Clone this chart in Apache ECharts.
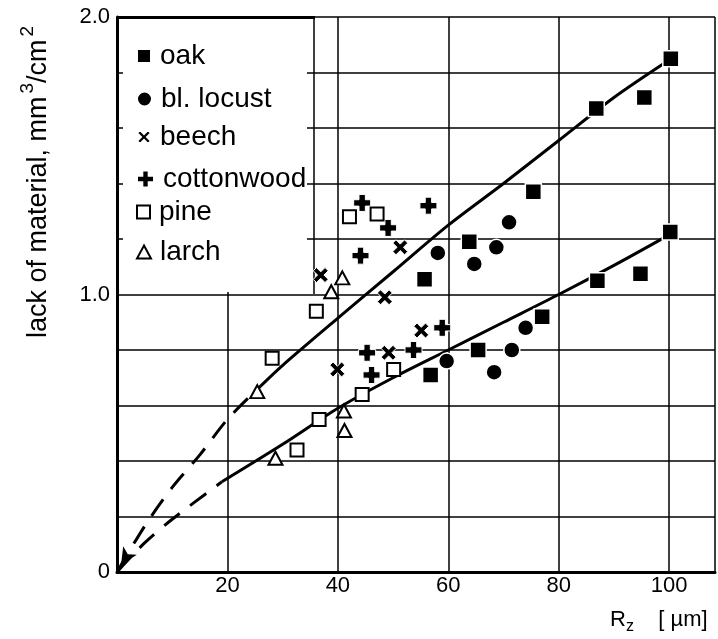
<!DOCTYPE html>
<html>
<head>
<meta charset="utf-8">
<script src="https://cdn.jsdelivr.net/npm/echarts@6/dist/echarts.min.js"></script>
<style>
  html, body { margin: 0; padding: 0; background: #fff; }
  #chart { width: 718px; height: 639px; }
</style>
</head>
<body>
<div id="chart"></div>
<script>
// measured points, x = Rz [um], y = lack of material [mm3/cm2]
const oakX = [100.3, 95.5, 86.8, 75.4, 63.8, 55.7, 100.2, 94.8, 87.0, 77.0, 65.4, 56.8];
const oakY = [1.85, 1.71, 1.67, 1.37, 1.19, 1.055, 1.225, 1.075, 1.05, 0.92, 0.80, 0.71];
const locustX = [71.0, 68.7, 64.7, 58.1, 59.7, 68.3, 71.5, 74.0];
const locustY = [1.26, 1.17, 1.11, 1.15, 0.76, 0.72, 0.80, 0.88];
const beechX = [36.9, 51.3, 48.5, 55.1, 49.2, 39.9];
const beechY = [1.07, 1.17, 0.99, 0.87, 0.79, 0.73];
const cottonX = [44.4, 49.1, 56.4, 44.1, 58.9, 53.7, 45.3, 46.1];
const cottonY = [1.33, 1.24, 1.32, 1.14, 0.88, 0.80, 0.79, 0.71];
const pineX = [42.1, 47.1, 36.1, 28.1, 50.1, 44.4, 36.6, 32.6];
const pineY = [1.28, 1.29, 0.94, 0.77, 0.73, 0.64, 0.55, 0.44];
const larchX = [40.8, 38.8, 25.4, 41.1, 41.2, 28.7];
const larchY = [1.06, 1.01, 0.65, 0.58, 0.51, 0.41];

// fitted curves (dashed part = extrapolation to origin)
const upperDashX = [0, 5, 10, 15, 20, 26];
const upperDashY = [0, 0.165, 0.305, 0.422, 0.55, 0.67];
const upperX = [26, 30, 40, 50, 60, 70, 80, 90, 100];
const upperY = [0.67, 0.745, 0.915, 1.082, 1.25, 1.40, 1.555, 1.71, 1.845];
const lowerDashX = [0, 5, 10, 19];
const lowerDashY = [0, 0.105, 0.19, 0.325];
const lowerX = [19, 30, 40, 50, 60, 70, 80, 90, 100];
const lowerY = [0.325, 0.46, 0.59, 0.70, 0.80, 0.90, 1.0, 1.105, 1.215];

const xTicks = [20, 40, 60, 80, 100];
const yTicks = ['0', '1.0', '2.0'];

const font = '"Liberation Sans", Arial, sans-serif';
const crossPath = 'path://M0,3 L3,0 L7,4 L11,0 L14,3 L10,7 L14,11 L11,14 L7,10 L3,14 L0,11 L4,7 Z';
const plusPath = 'path://M5,0 L11,0 L11,5 L16,5 L16,11 L11,11 L11,16 L5,16 L5,11 L0,11 L0,5 L5,5 Z';

const zip = (xs, ys) => xs.map((x, i) => [x, ys[i]]);

function curve(name, xs, ys, dashed) {
  const data = zip(xs, ys);
  if (name === 'upperDash') {
    data[0] = { value: data[0], symbol: 'arrow', symbolSize: [12, 17], symbolRotate: 148, symbolOffset: [4, -7] };
  }
  return {
    name: name,
    type: 'line',
    data: data,
    smooth: 0.3,
    symbol: 'none',
    showSymbol: true,
    silent: true,
    itemStyle: { color: '#000' },
    lineStyle: dashed ? { color: '#000', width: 3, type: [20, 13] } : { color: '#000', width: 3 },
    z: 2
  };
}

function scatter(name, xs, ys, symbol, size, hollow, halo) {
  return {
    name: name,
    type: 'scatter',
    data: zip(xs, ys),
    symbol: symbol,
    symbolSize: size,
    itemStyle: hollow
      ? { color: '#fff', borderColor: '#000', borderWidth: 2, opacity: 1 }
      : { color: '#000', borderColor: '#fff', borderWidth: halo, opacity: 1 },
    z: 3
  };
}

const legendTops = [57, 100, 138, 180, 213, 253];
const legendNames = ['oak', 'bl. locust', 'beech', 'cottonwood', 'pine', 'larch'];
const legendSizes = [[14, 14], [15, 15], [14, 14], [17, 17], [13, 13], [14, 13]];

const chart = echarts.init(document.getElementById('chart'));
chart.setOption({
  animation: false,
  backgroundColor: '#fff',
  grid: { left: 117, top: 17, right: 0, height: 555, containLabel: false },
  xAxis: {
    type: 'value',
    min: 0,
    max: 108.3,
    interval: 20,
    axisLine: { show: true, onZero: false, lineStyle: { color: '#000', width: 3 } },
    axisTick: { show: false },
    axisLabel: {
      color: '#000', fontSize: 22, fontFamily: font, margin: 3,
      formatter: v => (xTicks.indexOf(v) >= 0 ? String(v) : '')
    },
    splitLine: { show: true, lineStyle: { color: '#000', width: 1.5 } }
  },
  yAxis: {
    type: 'value',
    min: 0,
    max: 2,
    interval: 0.2,
    axisLine: { show: true, onZero: false, lineStyle: { color: '#000', width: 3 } },
    axisTick: { show: false },
    axisLabel: {
      color: '#000', fontSize: 22, fontFamily: font, margin: 7,
      formatter: v => {
        const i = Math.round(v);
        return Math.abs(v - i) < 1e-6 ? yTicks[i] : '';
      }
    },
    splitLine: { show: true, lineStyle: { color: '#000', width: 1.5 } }
  },
  legend: legendNames.map((n, i) => ({
    data: [n],
    left: 136,
    top: legendTops[i] - 15,
    orient: 'vertical',
    padding: 0,
    itemGap: 0,
    itemWidth: legendSizes[i][0],
    itemHeight: legendSizes[i][1],
    selectedMode: false,
    textStyle: { color: '#000', fontSize: 28, fontFamily: font, padding: [0, 0, 0, 4] }
  })),
  graphic: [
    { type: 'rect', shape: { x: 123, y: 19, width: 184, height: 273 }, style: { fill: '#fff' }, z: 1 },
    { type: 'line', shape: { x1: 314, y1: 17, x2: 314, y2: 294 }, style: { stroke: '#000', lineWidth: 1.5 }, z: 1 },
    { type: 'line', shape: { x1: 117, y1: 17.5, x2: 315, y2: 17.5 }, style: { stroke: '#000', lineWidth: 3 }, z: 1 },
    {
      type: 'text', x: 35, y: 182, rotation: Math.PI / 2, z: 5,
      style: {
        text: '{t|lack of material, mm}{s|3}{t|/cm}{s|2}',
        align: 'center', verticalAlign: 'middle',
        rich: {
          t: { fontSize: 27, fontFamily: font, fill: '#000', verticalAlign: 'bottom', lineHeight: 34 },
          s: { fontSize: 19, fontFamily: font, fill: '#000', verticalAlign: 'top', lineHeight: 34, padding: [0, 0, 0, 3] }
        }
      }
    },
    {
      type: 'text', x: 610, y: 620, z: 5,
      style: {
        text: '{a|R}{b|z}{a|    [ µm]}',
        align: 'left', verticalAlign: 'middle',
        rich: {
          a: { fontSize: 22, fontFamily: font, fill: '#000', verticalAlign: 'middle', lineHeight: 30 },
          b: { fontSize: 16, fontFamily: font, fill: '#000', verticalAlign: 'bottom', lineHeight: 30 }
        }
      }
    }
  ],
  series: [
    curve('upperDash', upperDashX, upperDashY, true),
    curve('upper', upperX, upperY, false),
    curve('lowerDash', lowerDashX, lowerDashY, true),
    curve('lower', lowerX, lowerY, false),
    scatter('oak', oakX, oakY, 'rect', 16, false, 1.5),
    scatter('bl. locust', locustX, locustY, 'circle', 16, false, 1.5),
    scatter('beech', beechX, beechY, crossPath, 15, false, 1),
    scatter('cottonwood', cottonX, cottonY, plusPath, 17, false, 1),
    scatter('pine', pineX, pineY, 'rect', 13, true, 0),
    scatter('larch', larchX, larchY, 'triangle', [14, 13], true, 0)
  ]
});
</script>
</body>
</html>
